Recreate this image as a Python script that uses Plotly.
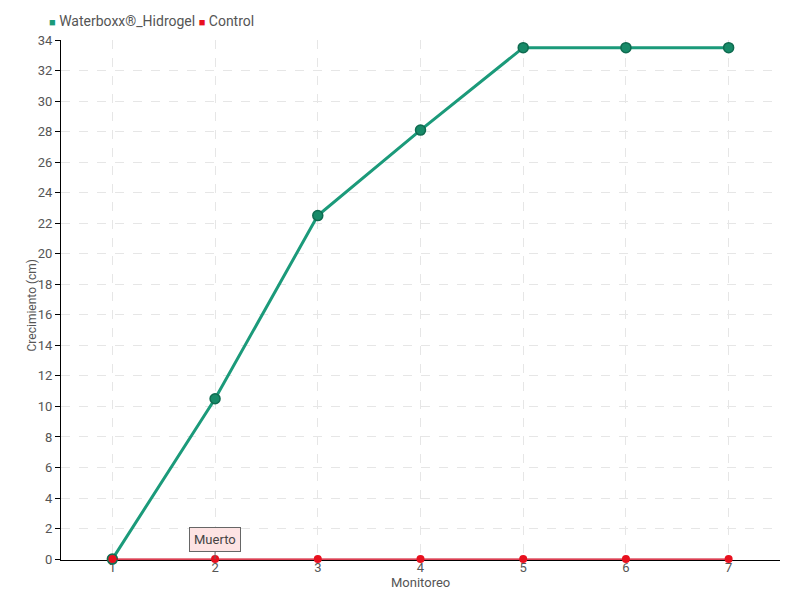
import plotly.graph_objects as go

monitoreo = [1, 2, 3, 4, 5, 6, 7]
waterboxx = [0, 10.5, 22.5, 28.1, 33.5, 33.5, 33.5]
control = [0, 0, 0, 0, 0, 0, 0]
y_ticks = list(range(0, 35, 2))

FONT = "Roboto, sans-serif"
GREEN = "#1b9a7a"
RED = "#e8101e"
TXT = "#555555"

fig = go.Figure()
fig.add_trace(go.Scatter(
    x=monitoreo, y=waterboxx, name="Waterboxx®_Hidrogel", mode="lines+markers",
    line=dict(color=GREEN, width=3), showlegend=False, cliponaxis=False,
    marker=dict(color="#178a68", size=10, line=dict(color="#0f6b50", width=1.5)),
))
fig.add_trace(go.Scatter(
    x=monitoreo, y=control, name="Control", mode="lines+markers",
    line=dict(color="#d0021b", width=1.2), showlegend=False,
    marker=dict(color=RED, size=8), cliponaxis=False,
))

# legend drawn as text with coloured squares
fig.add_annotation(
    xref="paper", yref="paper", x=-0.02, y=1.0365, xanchor="left", yanchor="middle",
    showarrow=False, font=dict(family=FONT, size=14, color=TXT),
    text=(f'<span style="color:{GREEN};font-size:11px">■</span> Waterboxx®_Hidrogel '
          f'<span style="color:{RED};font-size:11px">■</span> Control'),
)

# axis titles
fig.add_annotation(xref="paper", yref="paper", x=0.5, y=-0.043, text="Monitoreo",
                   showarrow=False, yanchor="middle", font=dict(size=13, color=TXT))
fig.add_annotation(xref="paper", yref="paper", x=-0.04, y=0.49, text="Crecimiento (cm)",
                   textangle=-90, showarrow=False, xanchor="center", yanchor="middle",
                   font=dict(size=12, color=TXT))

fig.add_annotation(
    x=2, y=0, text="Muerto", showarrow=True, arrowhead=0, arrowwidth=1,
    arrowcolor="#666666", ax=0, ay=-20, bgcolor="#fde3e3", bordercolor="#666666",
    borderwidth=1, borderpad=4, font=dict(family=FONT, size=13, color="#444444"),
)

fig.update_layout(
    width=800, height=600,
    margin=dict(l=53, r=28, t=32, b=48, autoexpand=False),
    plot_bgcolor="white", paper_bgcolor="white",
    font=dict(family=FONT, size=13, color=TXT),
    showlegend=False,
    xaxis=dict(
        range=[0.5, 7.5], tickvals=monitoreo, ticktext=[str(v) for v in monitoreo],
        showline=True, linecolor="black", linewidth=1, layer="below traces",
        showgrid=True, gridcolor="#e6e6e6", griddash="dash",
        ticks="", automargin=False, ticklabelstandoff=-5,
        tickfont=dict(size=13, color=TXT), zeroline=False,
    ),
    yaxis=dict(
        range=[-0.06, 34], tickvals=y_ticks,
        showline=True, linecolor="black", linewidth=1, layer="below traces",
        showgrid=True, gridcolor="#e6e6e6", griddash="dash",
        ticks="outside", ticklen=5, tickcolor="black", automargin=False,
        tickfont=dict(size=13, color=TXT), zeroline=False,
    ),
)

fig.write_html("out.html")
